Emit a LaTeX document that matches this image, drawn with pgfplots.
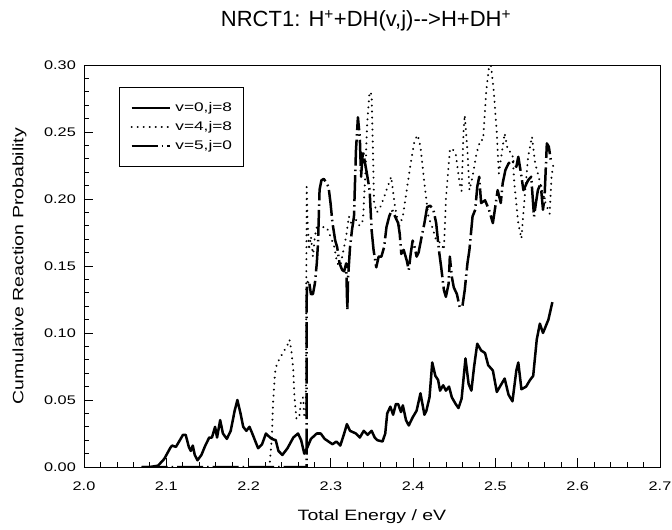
\documentclass[border=0pt]{standalone}
\usepackage{fontspec}
\setmainfont{Liberation Sans}
\newfontfamily\tickfont{Liberation Sans}[FakeStretch=1.3]
\newfontfamily\labfont{Liberation Sans}[FakeStretch=1.3]
\newfontfamily\legfont{Liberation Sans}[FakeStretch=1.38]
\usepackage{pgfplots}
\pgfplotsset{compat=1.18}
\begin{document}
\begin{tikzpicture}
\path[use as bounding box] (-84pt,-63pt) rectangle (588pt,467pt);
\begin{axis}[
  scale only axis, width=576pt, height=402pt,
  xmin=2.0, xmax=2.7, ymin=0, ymax=0.30,
  xtick={2.0,2.1,2.2,2.3,2.4,2.5,2.6,2.7},
  ytick={0,0.05,0.10,0.15,0.20,0.25,0.30},
  minor x tick num=4, minor y tick num=4,
  tick pos=left, tick align=inside,
  major tick length=9pt, minor tick length=5pt,
  every tick/.style={black, line width=0.8pt},
  axis line style={line width=0.9pt},
  /pgf/number format/assume math mode=true,
  xticklabel style={/pgf/number format/fixed, /pgf/number format/fixed zerofill, /pgf/number format/precision=1,
    anchor=base, inner sep=0pt, yshift=-23pt},
  yticklabel style={/pgf/number format/fixed, /pgf/number format/fixed zerofill, /pgf/number format/precision=2,
    anchor=east, inner sep=0pt, xshift=-8pt},
  ticklabel style={font=\tickfont\fontsize{12.5}{12.5}\selectfont},
  title={NRCT1: H\textsuperscript{+}+DH(v,j)-{}-{}>H+DH\textsuperscript{+}},
  title style={font=\fontsize{22}{22}\selectfont, at={(axis description cs:0.5,1)}, anchor=base, yshift=32pt, xshift=-6pt},
  xlabel={Total Energy / eV},
  xlabel style={font=\labfont\fontsize{15}{15}\selectfont, at={(axis description cs:0.5,-0.1244)}, anchor=center},
  ylabel={Cumulative Reaction Probability},
  ylabel style={font=\labfont\fontsize{15}{15}\selectfont, at={(axis description cs:-0.112,0.5)}, anchor=center},
  legend style={at={(axis description cs:0.0608,0.9453)}, anchor=north west, draw=black, line width=0.8pt,
    font=\legfont\fontsize{12.5}{12.5}\selectfont, inner xsep=11pt, inner ysep=14.5pt, row sep=6.5pt, column sep=4.5pt,
    nodes={inner sep=0pt, text height=9.5pt, text depth=3pt}},
  legend cell align=left,
  legend image code/.code={\draw[#1] (0pt,0pt) -- (38pt,0pt);},
]
\addplot[black, line width=2.5pt, line join=round] coordinates {
(2.070,0) (2.080,0) (2.090,0.001) (2.0975,0.006) (2.1046,0.014) (2.107,0.016) (2.1117,0.015) (2.1165,0.020) (2.1203,0.024) (2.1236,0.024) (2.1274,0.015) (2.1298,0.012) (2.1322,0.016) (2.1346,0.009) (2.1379,0.005) (2.1427,0.009) (2.1474,0.016) (2.1522,0.022) (2.1555,0.022) (2.1593,0.030) (2.1617,0.022) (2.1655,0.035) (2.1688,0.025) (2.1736,0.021) (2.1783,0.027) (2.1831,0.042) (2.1864,0.050) (2.1902,0.040) (2.1935,0.030) (2.1973,0.027) (2.2011,0.030) (2.2045,0.025) (2.2116,0.014) (2.2164,0.017) (2.2211,0.025) (2.2244,0.023) (2.2282,0.021) (2.2330,0.020) (2.2363,0.012) (2.2411,0.009) (2.2473,0.014) (2.2544,0.022) (2.2601,0.025) (2.2639,0.020) (2.2677,0.010) (2.2710,0.014) (2.2758,0.021) (2.2829,0.025) (2.2877,0.025) (2.2924,0.021) (2.2972,0.019) (2.3020,0.017) (2.3067,0.019) (2.3115,0.016) (2.3162,0.025) (2.3195,0.032) (2.3233,0.027) (2.3305,0.025) (2.3352,0.022) (2.3400,0.027) (2.3447,0.024) (2.3495,0.027) (2.3533,0.022) (2.3566,0.020) (2.3628,0.019) (2.3661,0.025) (2.3685,0.040) (2.3723,0.045) (2.3757,0.039) (2.3790,0.047) (2.3818,0.047) (2.3852,0.041) (2.3875,0.046) (2.3913,0.035) (2.3947,0.031) (2.3994,0.037) (2.4042,0.042) (2.4089,0.055) (2.4137,0.039) (2.4161,0.042) (2.4199,0.052) (2.4232,0.078) (2.4270,0.068) (2.4303,0.065) (2.4327,0.057) (2.4365,0.061) (2.4398,0.057) (2.4436,0.060) (2.4470,0.052) (2.4517,0.047) (2.4551,0.044) (2.4589,0.051) (2.4636,0.081) (2.4674,0.062) (2.4708,0.057) (2.4741,0.075) (2.4779,0.092) (2.4826,0.087) (2.4874,0.085) (2.4912,0.076) (2.4969,0.072) (2.5017,0.056) (2.5055,0.060) (2.5112,0.066) (2.5159,0.054) (2.5207,0.049) (2.5254,0.072) (2.5278,0.078) (2.5316,0.058) (2.5373,0.060) (2.5421,0.065) (2.5459,0.068) (2.5502,0.095) (2.5540,0.107) (2.5578,0.100) (2.5611,0.105) (2.5644,0.110) (2.5692,0.123)
};
\addlegendentry{v=0,j=8}
\addplot[black, line width=2.2pt, line cap=round, dash pattern=on 0.01pt off 6pt] coordinates {
(2.2259,0.004) (2.2283,0.022) (2.2297,0.047) (2.2321,0.070) (2.2344,0.077) (2.2378,0.081) (2.2425,0.086) (2.2473,0.091) (2.2497,0.095) (2.2520,0.087) (2.2544,0.072) (2.2558,0.052) (2.2582,0.036) (2.2615,0.037) (2.2639,0.050) (2.2663,0.052) (2.2677,0.037) (2.2696,0.037) (2.2706,0.209) (2.2715,0.187) (2.2734,0.162) (2.2758,0.172) (2.2782,0.157) (2.2806,0.172) (2.2839,0.182) (2.2886,0.179) (2.2948,0.179) (2.2996,0.172) (2.3043,0.164) (2.3077,0.152) (2.3115,0.150) (2.3186,0.172) (2.3219,0.187) (2.3257,0.180) (2.3300,0.185) (2.3350,0.180) (2.3390,0.184) (2.3420,0.220) (2.3440,0.255) (2.3470,0.280) (2.3495,0.278) (2.3510,0.240) (2.3525,0.197) (2.3560,0.190) (2.3610,0.195) (2.3661,0.204) (2.3733,0.2166) (2.3780,0.194) (2.3828,0.179) (2.3875,0.187) (2.3923,0.207) (2.3970,0.2265) (2.4018,0.244) (2.4056,0.2477) (2.4089,0.239) (2.4137,0.2116) (2.4185,0.187) (2.4232,0.179) (2.4280,0.169) (2.4341,0.167) (2.4374,0.162) (2.4398,0.200) (2.4446,0.236) (2.4470,0.238) (2.4517,0.234) (2.4565,0.2116) (2.4589,0.206) (2.4612,0.250) (2.4627,0.2626) (2.4660,0.236) (2.4684,0.2066) (2.4722,0.2166) (2.4770,0.234) (2.4817,0.244) (2.4850,0.244) (2.4889,0.281) (2.4922,0.2987) (2.4945,0.300) (2.4979,0.281) (2.5017,0.249) (2.5041,0.219) (2.5065,0.229) (2.5112,0.249) (2.5150,0.2365) (2.5207,0.234) (2.5230,0.2116) (2.5278,0.1817) (2.5316,0.1705) (2.5349,0.1967) (2.5397,0.2315) (2.5444,0.2465) (2.5483,0.2265) (2.5516,0.219) (2.5564,0.2066) (2.5611,0.1967) (2.5659,0.189) (2.5682,0.2166) (2.5706,0.2265)
};
\addlegendentry{v=4,j=8}
\addplot[black, line width=2.5pt, line join=round, dash pattern=on 26pt off 4pt on 1.5pt off 4pt] coordinates {
(2.070,0) (2.2687,0) (2.2706,0.0) (2.2706,0.124) (2.2710,0.137) (2.2734,0.139) (2.2758,0.129) (2.2782,0.129) (2.2806,0.137) (2.2829,0.152) (2.2844,0.167) (2.2863,0.207) (2.2886,0.214) (2.2915,0.215) (2.2948,0.2116) (2.2972,0.209) (2.2996,0.197) (2.3020,0.182) (2.3053,0.169) (2.3077,0.164) (2.3105,0.152) (2.3138,0.147) (2.3162,0.146) (2.3186,0.152) (2.3200,0.117) (2.3210,0.142) (2.3233,0.164) (2.3257,0.177) (2.3281,0.187) (2.3305,0.236) (2.3329,0.261) (2.3352,0.246) (2.3367,0.2166) (2.3390,0.236) (2.3409,0.229) (2.3438,0.219) (2.3471,0.2066) (2.3495,0.177) (2.3519,0.162) (2.3552,0.149) (2.3581,0.157) (2.3614,0.157) (2.3647,0.164) (2.3676,0.179) (2.3709,0.187) (2.3742,0.192) (2.3780,0.187) (2.3818,0.182) (2.3837,0.174) (2.3856,0.159) (2.3885,0.162) (2.3923,0.154) (2.3947,0.147) (2.3970,0.159) (2.3994,0.169) (2.4018,0.164) (2.4042,0.157) (2.4066,0.160) (2.4104,0.172) (2.4137,0.182) (2.4170,0.194) (2.4208,0.195) (2.4246,0.192) (2.4280,0.182) (2.4313,0.162) (2.4341,0.149) (2.4374,0.132) (2.4398,0.127) (2.4432,0.137) (2.4446,0.157) (2.4470,0.142) (2.4494,0.134) (2.4532,0.129) (2.4565,0.1195) (2.4598,0.1195) (2.4627,0.132) (2.4660,0.152) (2.4684,0.162) (2.4722,0.187) (2.4755,0.192) (2.4779,0.209) (2.4803,0.2166) (2.4826,0.197) (2.4874,0.199) (2.4922,0.192) (2.4969,0.182) (2.4993,0.192) (2.5027,0.2066) (2.5065,0.197) (2.5088,0.2116) (2.5121,0.2216) (2.5159,0.2265) (2.5207,0.229) (2.5254,0.224) (2.5278,0.2315) (2.5311,0.219) (2.5340,0.2066) (2.5359,0.209) (2.5397,0.214) (2.5435,0.2166) (2.5469,0.187) (2.5492,0.197) (2.5516,0.2066) (2.5549,0.2116) (2.5578,0.192) (2.5597,0.2016) (2.5625,0.2415) (2.5649,0.239) (2.5673,0.229)
};
\addlegendentry{v=5,j=0}
\end{axis}
\end{tikzpicture}
\end{document}
